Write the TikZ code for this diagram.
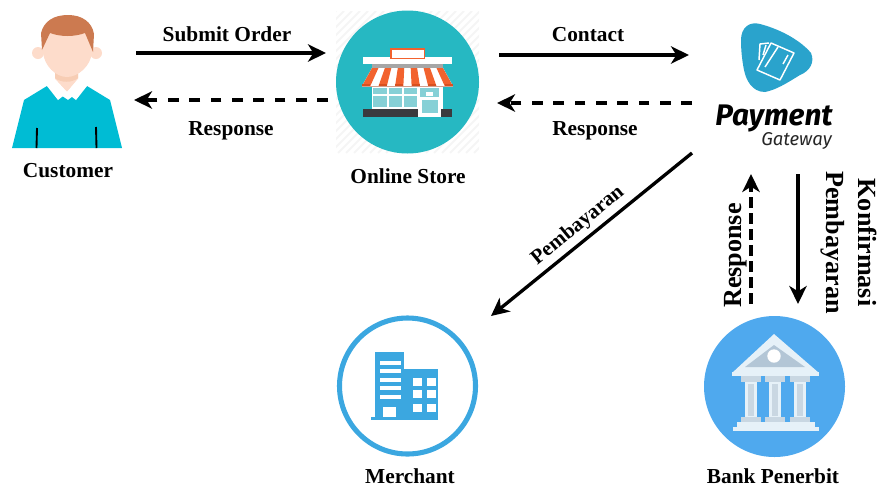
\documentclass[tikz,border=0pt]{standalone}
\usepackage{fontspec}
\setmainfont{Liberation Serif}
\newfontfamily\pgfont{Fira Sans}
\usetikzlibrary{arrows.meta}
\definecolor{skin}{HTML}{FDDCCB}
\definecolor{skind}{HTML}{F7CDB4}
\definecolor{hair}{HTML}{CC7A50}
\definecolor{shirt}{HTML}{00BCD4}
\definecolor{teal}{HTML}{26B8C2}
\definecolor{awn}{HTML}{F2622E}
\definecolor{awnd}{HTML}{D9501F}
\definecolor{glass}{HTML}{86D0D6}
\definecolor{dark}{HTML}{3A3A3E}
\definecolor{pg}{HTML}{2AA3CC}
\definecolor{merch}{HTML}{3BA7E0}
\definecolor{bankb}{HTML}{4FA9EE}
\definecolor{col}{HTML}{C9D7E2}
\definecolor{coll}{HTML}{E6F1F8}
\definecolor{roofd}{HTML}{B3C6D6}
\tikzset{
 x=0.75pt,y=-0.75pt,
 flow/.style={line width=2.5pt,-{Stealth[length=13.5pt,width=13pt,inset=4pt]}},
 backh/.style={flow,dash pattern=on 8pt off 8pt},
 backv/.style={flow,dash pattern=on 8pt off 4pt},
 lab/.style={font=\bfseries\fontsize{16pt}{18pt}\selectfont,inner sep=0pt,text=black,align=center,anchor=base},
 big/.style={font=\bfseries\fontsize{19.6pt}{24.3pt}\selectfont,inner sep=0pt,text=black,align=center,anchor=base},
 diag/.style={font=\bfseries\fontsize{15.6pt}{18pt}\selectfont,inner sep=0pt,text=black},
}
\begin{document}
\begin{tikzpicture}
\useasboundingbox (0,0) rectangle (877,486);
% Customer
\fill[shirt] (12,148) -- (24,100) -- (47,86) -- (68,100) -- (87,86) -- (110,100) -- (122,148) -- cycle;
\fill[skin] (55,66) -- (78,66) -- (78,79) -- (67,92) -- (55,79) -- cycle;
\fill[white] (47,86) -- (55,79) -- (67,92) -- (78,79) -- (87,86) -- (76,100) -- (67,93) -- (58,100) -- cycle;
\fill[skin] (38,53) circle (6) (96,53) circle (6);
\fill[skind] (55,72) -- (78,72) -- (78,78) .. controls (72,83) and (61,83) .. (55,78) -- cycle;
\fill[skin] (43,30) -- (92,30) -- (92,52) .. controls (91,66) and (78,77) .. (67,77) .. controls (56,77) and (44,66) .. (43,52) -- cycle;
\fill[hair] (42,50) -- (41,33) .. controls (44,21) and (54,15) .. (68,15) .. controls (82,15) and (92,22) .. (94,34) -- (93,52) -- (85,33) .. controls (74,37) and (61,37) .. (50,33) -- cycle;
\draw[black,line width=1.4pt] (37,128) -- (36.5,148) (96,127) -- (96.5,148);
\node[lab] (customer) at (68,177) {Customer};
% Online Store
\begin{scope}
\clip (336,11) rectangle (479,153);
\foreach \k in {0,8,...,288}{\draw[gray!8,line width=1.5pt] (336+\k-142,153) -- (336+\k,11);}
\end{scope}
\fill[teal] (407.5,82) circle (71.5);
\fill[white] (363,57) rectangle (452,64);
\fill[awn] (390,48) rectangle (425,59);
\fill[white] (391.5,49.5) rectangle (423.5,57.5);
\fill[white] (372,64) rectangle (443,112);
\fill[gray!70] (372,64) rectangle (443,69);
\fill[glass] (373,88) rectangle (417,107);
\draw[white,line width=0.9pt] (373,95) -- (417,95) (388,88) -- (388,107) (403,88) -- (403,107);
\fill[dark] (363,109) rectangle (452,117);
\fill[white] (418,87) rectangle (441,117);
\fill[glass] (422,100) rectangle (438,113);
\fill[glass] (420,88) rectangle (439,97);
\fill[white] (426,92) rectangle (433,96);
\fill[white] (372,68) -- (443,68) -- (453,86) -- (362,86) -- cycle;
\foreach \i in {0,2,...,10}{
 \fill[awn] ({372+\i*6.45},68) -- ({372+(\i+1)*6.45},68) -- ({362+(\i+1)*8.27},86) -- ({362+\i*8.27},86) -- cycle;
 \fill[awnd] ({362+\i*8.27},84) rectangle ({362+(\i+1)*8.27},87);}
\fill[awnd!60!gray!60] (362,86) rectangle (453,87);
\node[lab] (store) at (408,183) {Online Store};
% Payment Gateway
\fill[pg] (741,40) .. controls (741,28) and (749,21) .. (760,24) .. controls (783,30) and (802,42) .. (811,53) .. controls (815,62) and (810,71) .. (800,75) .. controls (787,83) and (776,90) .. (765,92) .. controls (752,92) and (746,80) .. (744,70) .. controls (742,60) and (741,50) .. (741,40) -- cycle;
\begin{scope}[draw=white,line width=1.1pt,line join=round]
\draw (771,43) -- (794,53) -- (780,80) -- (757,70) -- cycle;
\draw (765,67) -- (778,47);
\draw (783,64) -- (788,55);
\draw (759,60) -- (760,44) -- (769,43);
\draw (763,55) -- (766,45);
\end{scope}
\node[inner sep=0pt,anchor=base,font=\pgfont\bfseries\itshape\fontsize{22.3pt}{25pt}\selectfont,text=black] (pay) at (774,125) {Payment};
\node[inner sep=0pt,anchor=base,font=\pgfont\itshape\fontsize{13.9pt}{15pt}\selectfont,text=black!85] (gw) at (796.5,145) {Gateway};
% Merchant
\draw[merch,line width=3.8pt] (407.5,386) circle (68);
\fill[merch] (375,352) rectangle (404,420);
\fill[merch] (371,417) rectangle (404,420);
\fill[merch] (404,369) rectangle (438,420);
\foreach \y in {363,371,380,388,396.5}{\fill[white] (380,\y-2) rectangle (401,\y+2);}
\fill[white] (383,407) rectangle (396,417);
\foreach \y in {382,394,407.5}{\foreach \x in {413,427}{\fill[white] (\x,\y-4) rectangle (\x+8.5,\y+4);}}
\node[lab] (merchant) at (410,483) {Merchant};
% Bank
\fill[bankb] (774.5,386.5) circle (70.5);
\fill[coll] (774,334) -- (819,373) -- (732,373) -- cycle;
\fill[roofd] (774,345) -- (805,367) -- (745,367) -- cycle;
\fill[white] (774,356) circle (6.7);
\fill[coll] (732,372) rectangle (819,376);
\foreach \x in {751,775,800}{
 \fill[col] (\x-10,376) rectangle (\x+10,382);
 \fill[coll] (\x-6,382) rectangle (\x+6,418);
 \fill[col] (\x-3,384) rectangle (\x+3,416);
 \fill[col] (\x-10,417) rectangle (\x+10,422);
}
\fill[coll] (737,422) rectangle (815,427);
\fill[coll] (733,427) rectangle (819,431);
\node[lab] (bank) at (773,483) {Bank Penerbit};
% connector ends
\coordinate (a1) at (136,53); \coordinate (a2) at (326,53);
\coordinate (b1) at (328,100); \coordinate (b2) at (134,100);
\coordinate (c1) at (499,55); \coordinate (c2) at (689,55);
\coordinate (d1) at (692,103); \coordinate (d2) at (497,103);
\coordinate (e1) at (692,153); \coordinate (e2) at (491,316);
\coordinate (f1) at (798,174); \coordinate (f2) at (798,304);
\coordinate (g1) at (751,304); \coordinate (g2) at (751,174);
\draw[flow] (a1) -- (a2);
\draw[backh] (b1) -- (b2);
\draw[flow] (c1) -- (c2);
\draw[backh] (d1) -- (d2);
\draw[flow] (e1) -- (e2);
\draw[flow] (f1) -- (f2);
\draw[backv] (g1) -- (g2);
\node[lab] (l1) at (227,41) {Submit Order};
\node[lab] (l2) at (231,135) {Response};
\node[lab] (l3) at (588,41) {Contact};
\node[lab] (l4) at (595,135) {Response};
\node[diag,rotate=39.4] (l5) at (578,226) {Pembayaran};
\node[big,rotate=90] (l6) at (741,255.5) {Response};
\node[big,rotate=-90] (l7) at (826.5,242.5) {Konfirmasi\\Pembayaran};
\end{tikzpicture}
\end{document}
